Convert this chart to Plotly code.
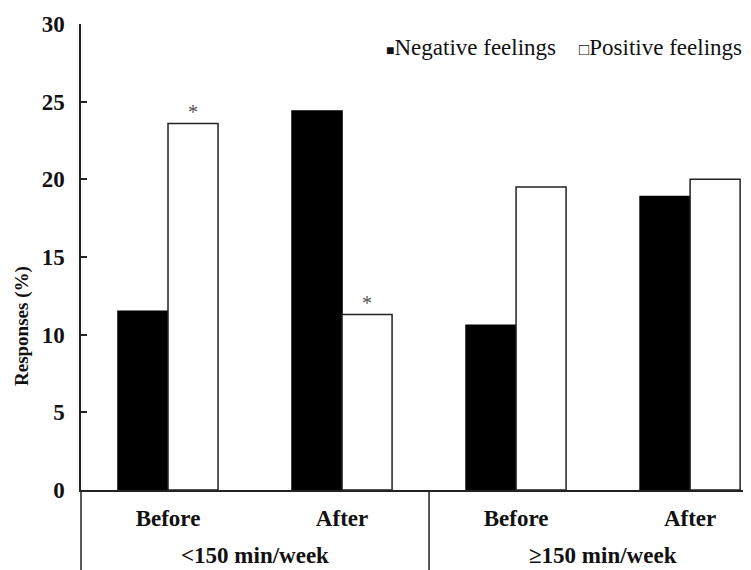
import plotly.graph_objects as go

periods = ["Before", "After", "Before", "After"]
groups = ["<150 min/week", "≥150 min/week"]
negative = [11.5, 24.4, 10.6, 18.9]
positive = [23.6, 11.3, 19.5, 20.0]
pos_sig = [True, True, False, False]
y_ticks = [0, 5, 10, 15, 20, 25, 30]

FONT = "Liberation Serif"
FS = 23
xs = list(range(len(periods)))
bargap = 0.425
bar_w = (1 - bargap) / 2

# page has an 8px body margin; figure sized so the chart lands where the reference has it
OFF = 8
W, H = 751 - OFF, 570 - OFF
L, T = 81 - OFF, 24 - OFF
B = H - (490 - OFF)
PW, PH = W - L, (490 - OFF) - T


def px_x(x):
    return (x - OFF - L) / PW


def px_y(y):
    return ((490 - OFF) - (y - OFF)) / PH


fig = go.Figure()
fig.add_trace(go.Bar(x=xs, y=negative, name="Negative feelings",
                     marker=dict(color="black", line=dict(color="black", width=1.5))))
fig.add_trace(go.Bar(x=xs, y=positive, name="Positive feelings",
                     marker=dict(color="white", line=dict(color="#222", width=1.5))))

annotations = []
for i, (v, s) in enumerate(zip(positive, pos_sig)):
    if s:
        annotations.append(dict(x=i + bar_w / 2, y=v, xref="x", yref="y", text="*",
                                showarrow=False, yanchor="bottom", yshift=-2,
                                font=dict(family=FONT, size=20, color="#555")))
for gi, g in enumerate(groups):
    annotations.append(dict(x=gi * 2 + 0.5, y=px_y(555), xref="x", yref="paper",
                            text="<b>" + g.replace("<", "&lt;") + "</b>",
                            showarrow=False, yanchor="middle",
                            font=dict(family=FONT, size=FS, color="#111")))
annotations.append(dict(x=px_x(22), xanchor="center", y=px_y(326), yref="paper", xref="paper",
                        text="<b>Responses (%)</b>", textangle=-90, showarrow=False,
                        font=dict(family=FONT, size=19, color="#111")))
annotations.append(dict(x=px_x(384), y=px_y(47), xref="paper", yref="paper",
                        xanchor="left", yanchor="middle",
                        text="<span style='font-size:14px'>■</span>Negative feelings"
                             "&nbsp;&nbsp;&nbsp;&nbsp;"
                             "<span style='font-size:17px'>□</span>Positive feelings",
                        showarrow=False,
                        font=dict(family=FONT, size=FS, color="#111")))

shapes = [
    dict(type="line", xref="x", yref="paper", x0=1.5, x1=1.5, y0=0, y1=-0.25,
         line=dict(color="#222", width=1.5)),
    dict(type="line", xref="paper", yref="paper", x0=0, x1=0, y0=0, y1=-0.25,
         line=dict(color="#222", width=1.5)),
]

fig.update_layout(
    width=W, height=H,
    font=dict(family=FONT, color="#111"),
    margin=dict(l=L, r=0, t=T, b=B, autoexpand=False),
    paper_bgcolor="white", plot_bgcolor="white",
    barmode="group", bargap=bargap, bargroupgap=0,
    showlegend=False,
    annotations=annotations,
    shapes=shapes,
    xaxis=dict(range=[-0.5, 3.35], tickvals=xs, ticktext=["<b>" + p + "</b>" for p in periods],
               ticks="", showline=True, linecolor="#222", linewidth=1.5, showgrid=False,
               zeroline=False, ticklabelstandoff=7,
               tickfont=dict(family=FONT, size=FS, color="#111")),
    yaxis=dict(range=[0, 30], tickvals=y_ticks, ticktext=["<b>%d</b>" % t for t in y_ticks],
               ticks="inside", ticklen=6,
               tickcolor="#222", tickwidth=1.5,
               showline=True, linecolor="#222", linewidth=1.5, showgrid=False,
               zeroline=False, ticklabelstandoff=10,
               tickfont=dict(family=FONT, size=FS, color="#111")),
)

fig.write_html("out.html")
